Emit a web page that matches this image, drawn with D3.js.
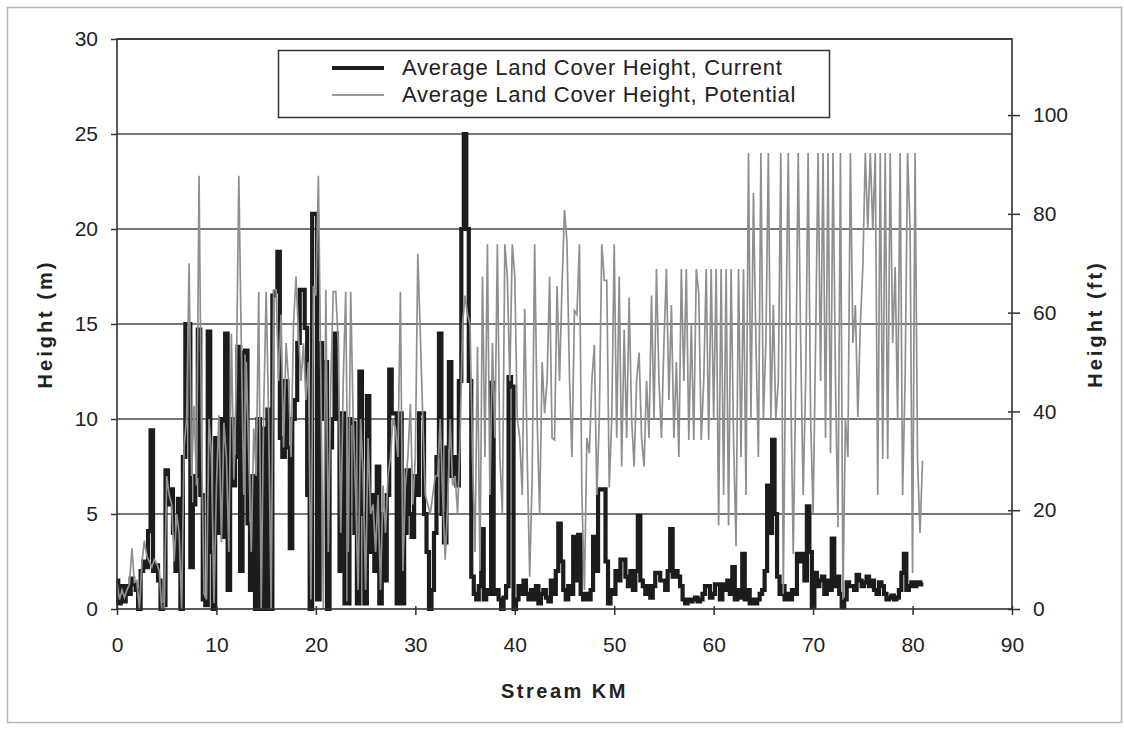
<!DOCTYPE html>
<html>
<head>
<meta charset="utf-8">
<script src="https://cdnjs.cloudflare.com/ajax/libs/d3/7.8.5/d3.min.js"></script>
<style>
  body { margin: 0; background: #fff; }
  svg { font-family: "Liberation Sans", Arial, sans-serif; }
  .tick text { font-size: 21px; fill: #222; }
  .axis-title { font-size: 20px; font-weight: bold; fill: #222; }
  .legend text { font-size: 22px; fill: #222; letter-spacing: 0.7px; }
</style>
</head>
<body>
<div id="chart"></div>
<script>
// stream km sampling: one value every 0.25 km, starting at km 0
var kmStart = 0,
    kmStep = 0.25;

// average land cover height, current (m) - one row per km
var currentHeight = [
  1.5, 0.3, 1.2, 0.4,
  1.2, 0.8, 1.6, 1.3,
  1.0, 0.0, 2.0, 2.5,
  2.2, 4.1, 9.4, 2.0,
  2.3, 1.5, 0.0, 0.2,
  7.3, 5.5, 6.3, 4.0,
  2.0, 5.8, 0.0, 8.0,
  15.0, 15.0, 2.2, 5.5,
  7.0, 14.7, 6.0, 0.5,
  0.2, 14.6, 3.0, 0.0,
  9.0, 4.0, 10.0, 3.8,
  14.5, 1.0, 10.0, 6.5,
  8.0, 13.8, 2.0, 13.5,
  13.6, 4.5, 1.0, 7.0,
  0.0, 10.0, 0.0, 9.5,
  0.0, 10.5, 0.0, 16.5,
  16.7, 18.8, 9.0, 8.0,
  12.0, 8.5, 3.2, 10.0,
  11.0, 14.0, 16.8, 16.8,
  14.8, 6.0, 0.0, 20.8,
  20.8, 0.5, 14.0, 10.0,
  13.0, 0.0, 8.5, 10.0,
  14.5, 10.0, 2.0, 10.3,
  0.3, 0.3, 10.0, 9.8,
  4.0, 0.3, 12.5, 5.0,
  0.3, 11.2, 3.0, 6.0,
  2.0, 7.5, 0.3, 5.0,
  1.5, 6.0, 12.6, 10.3,
  10.3, 0.3, 10.3, 0.3,
  4.0, 7.3, 5.0, 3.8,
  7.0, 6.0, 10.3, 10.3,
  5.0, 3.0, 0.0, 1.0,
  4.0, 8.0, 14.5, 5.0,
  3.5, 8.5, 13.0, 7.0,
  8.0, 6.5, 12.0, 20.0,
  25.0, 20.0, 12.0, 1.7,
  0.8, 0.5, 1.2, 4.2,
  0.5, 1.0, 0.8, 11.9,
  0.8, 1.0, 0.5, 0.0,
  0.6, 1.2, 12.2, 11.7,
  0.0, 0.5, 1.2, 0.8,
  1.5, 0.8, 0.5, 1.0,
  0.5, 1.2, 0.3, 0.8,
  1.0, 0.6, 0.4, 1.5,
  0.8, 2.0, 4.5, 2.5,
  1.0, 0.5, 1.2, 0.8,
  3.8, 1.5, 3.9, 0.8,
  0.5, 0.8, 0.5, 1.0,
  3.8, 2.0, 6.3, 6.3,
  6.3, 2.5, 0.3, 1.0,
  0.8, 2.0, 1.5, 2.6,
  2.6, 1.7, 1.2, 2.0,
  1.0, 2.0, 4.9, 1.5,
  1.2, 0.8, 1.2, 0.6,
  1.2, 1.9, 1.9, 1.5,
  1.5, 1.0, 2.0, 4.2,
  1.7, 2.0, 1.7, 1.2,
  0.5, 0.3, 0.5, 0.4,
  0.5, 0.6, 0.4, 0.5,
  0.8, 1.2, 1.2, 0.6,
  0.8, 1.3, 1.3, 0.5,
  1.3, 1.0, 1.5, 0.8,
  2.2, 0.5, 1.0, 0.6,
  2.9, 0.5, 1.0, 0.3,
  0.5, 0.3, 0.5, 0.8,
  1.0, 2.0, 6.5, 4.0,
  8.9, 5.0, 1.7, 0.8,
  1.2, 0.5, 0.8, 0.5,
  1.0, 0.8, 2.9, 2.5,
  2.9, 1.5, 5.4, 3.0,
  0.1, 1.9, 1.2, 1.5,
  1.7, 0.8, 1.5, 1.0,
  3.7, 1.2, 1.7, 0.8,
  0.1, 0.5, 1.4, 1.2,
  1.2, 1.0, 1.8, 1.5,
  1.2, 1.4, 1.7, 1.2,
  1.5, 1.0, 0.8, 1.4,
  1.2, 0.8, 0.5, 0.6,
  0.7, 0.5, 0.6, 1.0,
  1.9, 2.9, 1.0, 1.2,
  1.4, 1.2, 1.4, 1.3,
  1.4
];

// average land cover height, potential (m) - one row per km
var potentialHeight = [
  1.4, 0.5, 1.0, 0.6,
  1.0, 1.3, 3.2, 1.4,
  1.5, 0.0, 2.4, 3.6,
  2.8, 2.5, 2.2, 2.6,
  2.4, 2.0, 0.0, 0.0,
  7.0, 6.0, 5.5, 2.5,
  5.0, 4.0, 0.0, 8.6,
  10.0, 18.2, 7.0, 10.7,
  6.5, 22.8, 9.0, 0.8,
  0.5, 10.0, 8.0, 0.3,
  6.5, 10.2, 3.5, 9.8,
  8.0, 3.0, 14.5, 6.8,
  12.0, 22.8, 14.0, 6.0,
  13.0, 8.0, 3.0, 9.5,
  7.0, 16.7, 0.0, 10.5,
  16.7, 10.0, 0.0, 16.8,
  16.8, 12.0, 15.5, 8.5,
  14.0, 12.0, 8.0, 15.0,
  17.5, 14.5, 12.0, 14.0,
  11.0, 13.0, 0.5, 17.0,
  16.5, 22.8, 12.0, 0.0,
  16.8, 3.0, 12.0, 16.7,
  16.7, 14.0, 4.0, 12.0,
  16.7, 3.0, 16.7, 10.0,
  6.0, 1.0, 10.0, 7.0,
  1.0, 9.0, 5.0, 5.5,
  3.0, 6.0, 1.0, 6.5,
  4.0, 7.0, 8.0, 10.0,
  9.5, 8.0, 16.7, 2.0,
  6.5, 8.0, 10.8, 5.5,
  8.0, 18.7, 14.5, 10.0,
  6.0, 5.5, 5.0, 6.0,
  7.0, 7.0, 10.0, 6.0,
  2.6, 5.5, 10.0, 6.5,
  7.0, 5.0, 9.0, 15.0,
  16.5, 15.5, 15.0, 8.0,
  3.0, 13.8, 2.0, 17.5,
  8.0, 19.2, 6.0, 14.0,
  9.0, 19.2, 8.0, 5.0,
  19.2, 17.5, 12.0, 19.2,
  17.5, 10.0, 9.0, 6.0,
  15.8, 8.0, 1.7, 7.0,
  19.2, 10.0, 5.0, 13.0,
  10.3, 12.0, 17.5, 9.0,
  8.9, 17.0, 12.0, 17.0,
  21.0, 19.3, 12.2, 8.0,
  15.7, 15.5, 19.2, 6.0,
  1.0, 9.0, 8.2, 12.0,
  13.9, 6.0, 10.0, 19.2,
  17.3, 17.3, 6.4, 10.0,
  19.2, 9.0, 17.5, 7.5,
  14.7, 9.0, 16.4, 10.0,
  7.5, 12.0, 13.5, 9.0,
  7.5, 12.0, 9.0, 16.5,
  10.0, 17.9, 12.0, 9.0,
  14.0, 17.9, 11.0, 16.0,
  9.0, 13.0, 8.0, 17.9,
  12.0, 17.9, 8.9, 15.0,
  8.9, 17.9, 16.6, 8.9,
  12.0, 17.9, 8.9, 17.9,
  10.0, 17.9, 4.4, 17.9,
  6.0, 17.9, 4.4, 17.9,
  9.0, 3.3, 17.9, 8.0,
  17.9, 6.0, 24.0, 10.0,
  21.9, 14.0, 8.0, 24.0,
  10.0, 14.0, 24.0, 10.0,
  16.0, 10.0, 12.0, 24.0,
  0.8, 14.0, 24.0, 11.7,
  2.9, 11.7, 24.0, 14.0,
  6.0, 12.0, 24.0, 10.0,
  5.0, 14.0, 24.0, 12.0,
  24.0, 9.0, 24.0, 8.2,
  24.0, 12.0, 4.3, 24.0,
  0.5, 10.0, 8.0, 24.0,
  14.0, 16.0, 10.1, 15.0,
  18.0, 24.0, 20.0, 24.0,
  20.0, 24.0, 6.0, 24.0,
  7.9, 24.0, 7.9, 24.0,
  14.0, 18.0, 10.0, 24.0,
  6.0, 12.0, 24.0, 20.0,
  1.9, 24.0, 7.9, 4.0,
  7.8
];

var seriesNames = ["Average Land Cover Height, Current", "Average Land Cover Height, Potential"];
var xTicks = [0, 10, 20, 30, 40, 50, 60, 70, 80, 90];
var yTicksM = [0, 5, 10, 15, 20, 25, 30];
var yTicksFt = [0, 20, 40, 60, 80, 100];

var width = 1124,
    height = 729,
    margin = {top: 39, right: 112, bottom: 120, left: 117};

var svg = d3.select("#chart")
    .append("svg")
    .attr("width", width)
    .attr("height", height);

// outer chart frame
svg.append("rect")
    .attr("x", 7.5).attr("y", 7.5)
    .attr("width", width - 10).attr("height", height - 14)
    .attr("fill", "none")
    .attr("stroke", "#b5b5b5")
    .attr("stroke-width", 1.5);

var x = d3.scaleLinear()
    .domain([0, 90])
    .range([margin.left, width - margin.right]);

var y = d3.scaleLinear()
    .domain([0, 30])
    .range([height - margin.bottom, margin.top]);

var yFt = d3.scaleLinear()
    .domain([0, 115.4])
    .range([height - margin.bottom, margin.top]);

// horizontal grid lines
svg.append("g")
    .selectAll("line")
    .data(yTicksM.slice(1))
    .enter()
    .append("line")
    .attr("x1", x(0)).attr("x2", x(90))
    .attr("y1", d => y(d)).attr("y2", d => y(d))
    .attr("stroke", "#4a4a4a")
    .attr("stroke-width", 1.4);

function join(values){
    return values.map((v, i) => ({km: kmStart + i * kmStep, h: v}));
}

// current drawn as steps (blocky dark band), potential as thin spikes
var stepLine = d3.line()
    .curve(d3.curveStep)
    .x(d => x(d.km))
    .y(d => y(d.h));

var spikeLine = d3.line()
    .x(d => x(d.km))
    .y(d => y(d.h));

svg.append("path")
    .datum(join(currentHeight))
    .attr("fill", "none")
    .attr("stroke", "#1c1c1c")
    .attr("stroke-width", 4.2)
    .attr("d", stepLine);

svg.append("path")
    .datum(join(potentialHeight))
    .attr("fill", "none")
    .attr("stroke", "#8f8f8f")
    .attr("stroke-width", 1.7)
    .attr("d", spikeLine);

// plot frame
svg.append("rect")
    .attr("x", x(0)).attr("y", y(30))
    .attr("width", x(90) - x(0)).attr("height", y(0) - y(30))
    .attr("fill", "none")
    .attr("stroke", "#333")
    .attr("stroke-width", 1.6);

function styleAxis(g){
    g.select(".domain").remove();
    g.selectAll(".tick line").attr("stroke", "#333").attr("stroke-width", 1.5);
}

svg.append("g")
    .attr("transform", `translate(${x(0)},0)`)
    .call(d3.axisLeft(y).tickValues(yTicksM).tickSize(6).tickPadding(13))
    .call(styleAxis);

var xAxis = svg.append("g")
    .attr("transform", `translate(0,${y(0)})`)
    .call(d3.axisBottom(x).tickValues(xTicks).tickSizeInner(6).tickSizeOuter(0).tickPadding(22))
    .call(styleAxis);
xAxis.selectAll(".tick line").attr("y1", -3);

var ftAxis = svg.append("g")
    .attr("transform", `translate(${x(90)},0)`)
    .call(d3.axisRight(yFt).tickValues(yTicksFt).tickSize(8).tickPadding(13))
    .call(styleAxis);
ftAxis.selectAll(".tick line").attr("x1", -4);

svg.append("text")
    .attr("class", "axis-title")
    .attr("x", (x(0) + x(90)) / 2)
    .attr("y", 698)
    .attr("text-anchor", "middle")
    .style("letter-spacing", "2.5px")
    .text("Stream KM");

svg.append("text")
    .attr("class", "axis-title")
    .attr("transform", `translate(52,${(y(0) + y(30)) / 2}) rotate(-90)`)
    .attr("text-anchor", "middle")
    .style("letter-spacing", "3px")
    .text("Height (m)");

svg.append("text")
    .attr("class", "axis-title")
    .attr("transform", `translate(1102,${(y(0) + y(30)) / 2}) rotate(-90)`)
    .attr("text-anchor", "middle")
    .style("letter-spacing", "3px")
    .text("Height (ft)");

// legend
var legend = svg.append("g").attr("class", "legend");
legend.append("rect")
    .attr("x", 278.5).attr("y", 50.5)
    .attr("width", 551).attr("height", 67)
    .attr("fill", "#fff")
    .attr("stroke", "#333")
    .attr("stroke-width", 1.5);

var legendStyles = [{stroke: "#1c1c1c", w: 4}, {stroke: "#999", w: 1.8}];
legend.selectAll(".item")
    .data(seriesNames)
    .enter()
    .append("g")
    .attr("class", "item")
    .attr("transform", (d, i) => `translate(332,${68 + i * 27})`)
    .each(function(d, i){
        var g = d3.select(this);
        g.append("line")
            .attr("x1", 0).attr("x2", 52)
            .attr("stroke", legendStyles[i].stroke)
            .attr("stroke-width", legendStyles[i].w);
        g.append("text")
            .attr("x", 70).attr("y", 7)
            .text(d);
    });
</script>
</body>
</html>
